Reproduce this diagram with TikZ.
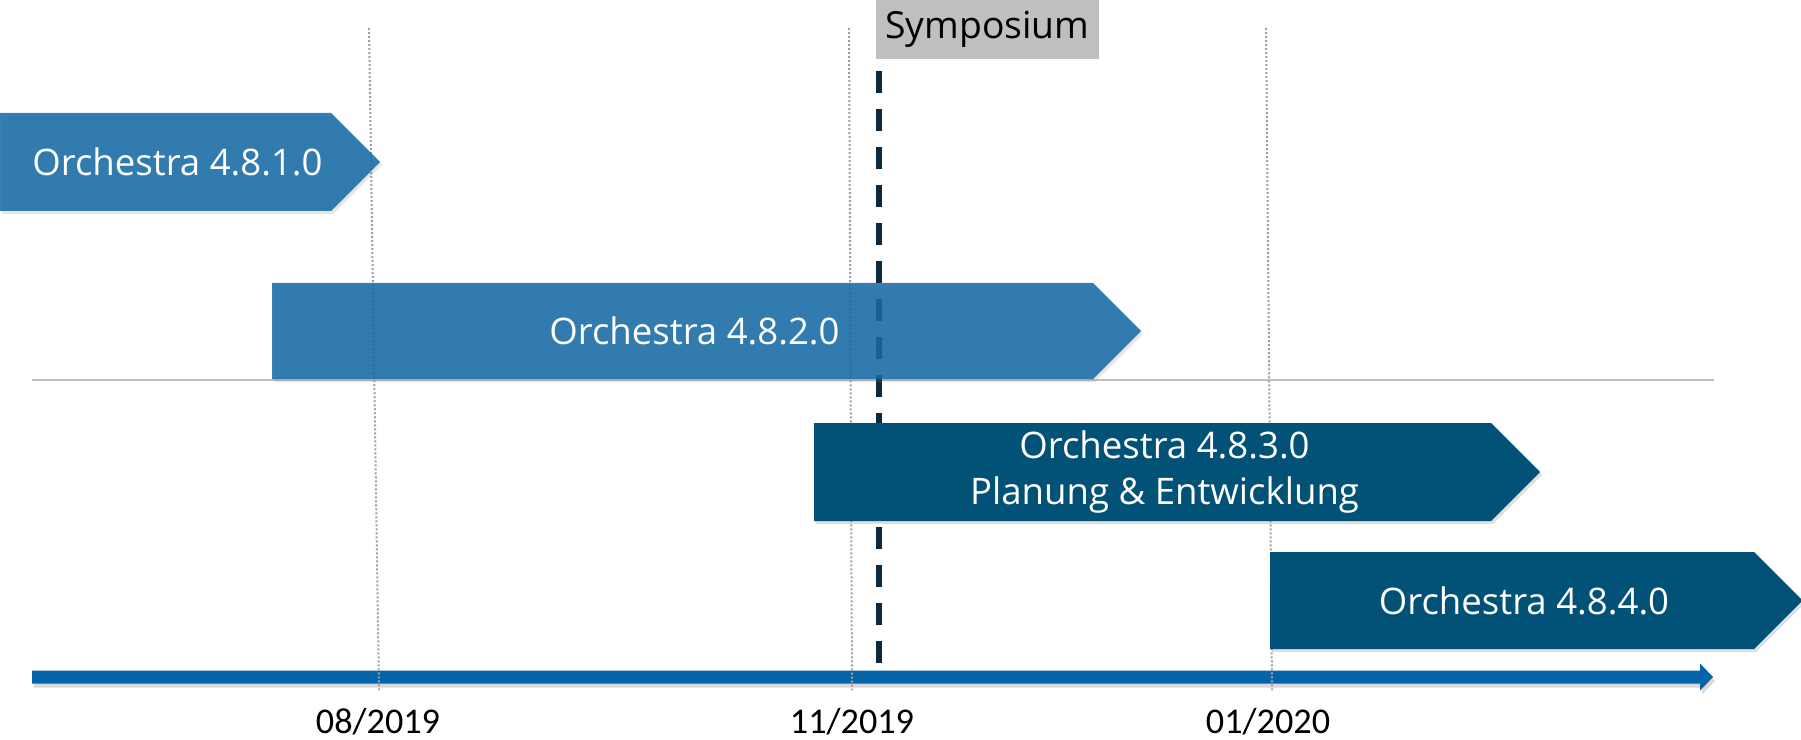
\documentclass[tikz,border=0pt]{standalone}
\usepackage{fontspec}
\setmainfont{Open Sans}
\newfontfamily\datefont{Carlito}
\usepackage{tikz}
\usetikzlibrary{positioning,shadows}
\usepackage{xcolor}
\definecolor{tlblue}{RGB}{20,105,165}
\definecolor{tldark}{RGB}{2,82,120}
\definecolor{tlaxis}{RGB}{5,99,168}
\definecolor{tlnavy}{RGB}{11,42,61}
\definecolor{tlgray}{RGB}{191,191,191}
\definecolor{tldots}{RGB}{160,160,160}
\tikzstyle{oldrelease} = [fill=tlblue, fill opacity=0.85, drop shadow={opacity=0.2, shadow xshift=0.02cm, shadow yshift=-0.03cm}]
\tikzstyle{newrelease} = [fill=tldark, drop shadow={opacity=0.25, shadow xshift=0.02cm, shadow yshift=-0.03cm}]
\tikzstyle{reltext} = [text=white, align=center, inner sep=0pt, font=\fontsize{10.4pt}{12.8pt}\selectfont]
\tikzstyle{datelabel} = [text=black, inner sep=0pt, font=\datefont\fontsize{10.3pt}{12pt}\selectfont]
\tikzstyle{monthline} = [tldots, line width=0.02cm, dash pattern=on 0.02cm off 0.02cm]
\tikzstyle{symline} = [tlnavy, line width=0.06cm, dash pattern=on 0.22cm off 0.16cm]
\tikzstyle{sympbox} = [rectangle, fill=tlgray, minimum width=2.23cm, minimum height=0.59cm, inner sep=0pt, font=\fontsize{10.6pt}{12pt}\selectfont]

% name, left, body end, top, bottom, style, text
\newcommand{\releasearrow}[7]{%
\fill[#6] (#2,#4) -- (#3,#4) -- ({#3+(#5-#4)/2},{(#4+#5)/2}) -- (#3,#5) -- (#2,#5) -- cycle;
\node (#1) [reltext] at ({(#2+#3)/2+12},{(#4+#5)/2}) {#7};
}

\begin{document}
\begin{tikzpicture}[x=0.01cm, y=-0.01cm]
\useasboundingbox (0,0) rectangle (1801,740);

% separator and time axis
\draw[tlgray, line width=0.02cm] (32,380) -- (1714,380);
\fill[tlaxis, drop shadow={opacity=0.3, shadow xshift=0.02cm, shadow yshift=-0.04cm}]
  (32,670.5) -- (1700,670.5) -- (1700,663.5) -- (1713,677) -- (1700,690.5) -- (1700,683.5) -- (32,683.5) -- cycle;

% month markers
\coordinate (m08t) at (369,28);
\coordinate (m08b) at (379,690);
\coordinate (m11t) at (849,28);
\coordinate (m11b) at (852,690);
\coordinate (m01t) at (1266,28);
\coordinate (m01b) at (1272,690);
\draw[monthline] (m08t) -- (m08b);
\draw[monthline] (m11t) -- (m11b);
\draw[monthline] (m01t) -- (m01b);

\node (d0819) [datelabel, anchor=base] at (378,733) {08/2019};
\node (d1119) [datelabel, anchor=base] at (852,733) {11/2019};
\node (d0120) [datelabel, anchor=base] at (1268,733) {01/2020};

% symposium
\node (symp) [sympbox] at (987.5,29.5) {Symposium};
\coordinate (symtop) at (879,71);
\coordinate (symbot) at (879,663);
\draw[symline] (symtop) -- (symbot);

% releases
\releasearrow{v481}{0}{331}{113}{211}{oldrelease}{Orchestra 4.8.1.0}
\releasearrow{v482}{272}{1093}{283}{379}{oldrelease}{Orchestra 4.8.2.0}
\releasearrow{v483}{814}{1491}{423}{521}{newrelease}{Orchestra 4.8.3.0\\Planung \& Entwicklung}
\releasearrow{v484}{1270}{1754}{552}{649}{newrelease}{Orchestra 4.8.4.0}
\end{tikzpicture}
\end{document}
